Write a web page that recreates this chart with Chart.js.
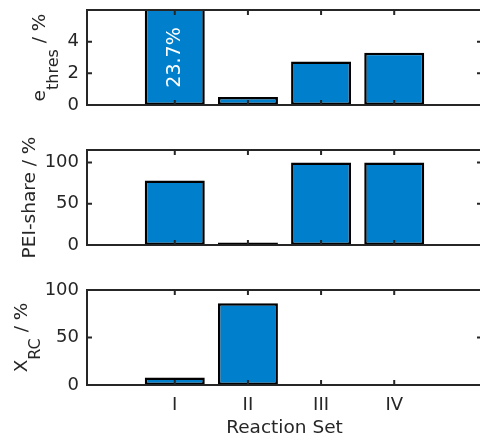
<!DOCTYPE html>
<html>
<head>
<meta charset="utf-8">
<script src="https://cdn.jsdelivr.net/npm/chart.js@4.4.1/dist/chart.umd.min.js"></script>
<style>
  html, body { margin: 0; padding: 0; background: #fff; }
  #wrap { position: relative; width: 480px; height: 439px; overflow: hidden; }
  canvas { position: absolute; left: 0; top: 0; }
</style>
</head>
<body>
<div id="wrap">
  <canvas id="cThres" width="492" height="439"></canvas>
  <canvas id="cShare" width="492" height="439"></canvas>
  <canvas id="cConv" width="492" height="439"></canvas>
</div>
<script>
const reactionSets = ['I', 'II', 'III', 'IV'];
const setPositions = [1, 2, 3, 4];

// threshold energy share, PEI share and RC conversion per reaction set (in %)
const eThres = [23.7, 0.5, 2.75, 3.3];
const peiShare = [78, 3, 100, 100];
const xRC = [8, 86, 1, 0.3];

const eThresTicks = [0, 2, 4];
const peiShareTicks = [0, 50, 100];
const xRCTicks = [0, 50, 100];

const FONT = 'DejaVu Sans';
const INK = '#262626';
const BAR = '#0080cc';

// boxed axes with inward ticks
const boxAxes = {
  id: 'boxAxes',
  afterDatasetsDraw(chart) {
    const { ctx, chartArea: a, scales } = chart;
    const t = 5;
    ctx.save();
    ctx.strokeStyle = INK;
    ctx.lineWidth = 2;
    ctx.strokeRect(a.left, a.top, a.right - a.left, a.bottom - a.top);
    ctx.beginPath();
    scales.y.ticks.forEach(tk => {
      const y = scales.y.getPixelForValue(tk.value);
      ctx.moveTo(a.left, y); ctx.lineTo(a.left + t, y);
      ctx.moveTo(a.right, y); ctx.lineTo(a.right - t, y);
    });
    setPositions.forEach(v => {
      const x = scales.x.getPixelForValue(v);
      ctx.moveTo(x, a.bottom); ctx.lineTo(x, a.bottom - t);
      ctx.moveTo(x, a.top); ctx.lineTo(x, a.top + t);
    });
    ctx.stroke();
    ctx.restore();
  }
};

// rotated y label with subscript support
const yLabel = {
  id: 'yLabel',
  afterDraw(chart, args, opts) {
    if (!opts.parts) return;
    const { ctx, chartArea: a } = chart;
    const mainFont = '18.5px "' + FONT + '"';
    const subFont = '16px "' + FONT + '"';
    ctx.save();
    ctx.fillStyle = INK;
    ctx.textBaseline = 'alphabetic';
    let total = 0;
    opts.parts.forEach(p => {
      ctx.font = p.sub ? subFont : mainFont;
      p.w = ctx.measureText(p.text).width;
      total += p.w;
    });
    ctx.translate(opts.x, (a.top + a.bottom) / 2);
    ctx.rotate(-Math.PI / 2);
    let cx = -total / 2;
    opts.parts.forEach(p => {
      ctx.font = p.sub ? subFont : mainFont;
      ctx.fillText(p.text, cx, p.sub ? 13 : 0);
      cx += p.w;
    });
    ctx.restore();
  }
};

// value written inside a clipped bar
const clippedValue = {
  id: 'clippedValue',
  afterDatasetsDraw(chart, args, opts) {
    if (opts.index === undefined) return;
    const { ctx, chartArea: a } = chart;
    const bar = chart.getDatasetMeta(0).data[opts.index];
    const value = chart.data.datasets[0].data[opts.index].y;
    ctx.save();
    ctx.fillStyle = '#ffffff';
    ctx.font = '19px "' + FONT + '"';
    ctx.textAlign = 'center';
    ctx.textBaseline = 'middle';
    ctx.translate(bar.x, (a.top + a.bottom) / 2);
    ctx.rotate(-Math.PI / 2);
    ctx.fillText(value.toFixed(1) + '%', 0, 0);
    ctx.restore();
  }
};

function makePanel(id, values, yMax, yTicks, parts, labelX, top, bottom, withXAxis, valueIndex) {
  const points = setPositions.map((x, i) => ({ x: x, y: values[i] }));
  return new Chart(document.getElementById(id), {
    type: 'bar',
    data: {
      datasets: [{
        data: points,
        backgroundColor: BAR,
        borderColor: '#000000',
        borderWidth: 2.5,
        borderSkipped: false,
        barPercentage: 0.82,
        categoryPercentage: 1,
        clip: 0
      }]
    },
    options: {
      responsive: false,
      animation: false,
      devicePixelRatio: 1,
      layout: { padding: { top: top, right: 10, bottom: bottom, left: 0 } },
      plugins: {
        legend: { display: false },
        tooltip: { enabled: false },
        yLabel: { parts: parts, x: labelX },
        clippedValue: { index: valueIndex }
      },
      scales: {
        x: {
          type: 'linear',
          display: withXAxis,
          min: -0.2,
          max: 5.2,
          offset: false,
          grid: { display: false, drawTicks: false },
          border: { display: false },
          ticks: {
            stepSize: 1,
            includeBounds: false,
            autoSkip: false,
            maxRotation: 0,
            padding: 10,
            color: INK,
            font: { family: FONT, size: 18 },
            callback: v => reactionSets[setPositions.indexOf(v)] || ''
          },
          title: {
            display: true,
            text: 'Reaction Set',
            color: INK,
            font: { family: FONT, size: 18.5 },
            padding: 0
          },
          afterFit: s => {
            if (withXAxis) s.height = 54;
            s.paddingLeft = 0; s.paddingRight = 0;
          }
        },
        y: {
          min: 0,
          max: yMax,
          grid: { display: false, drawTicks: false },
          border: { display: false },
          ticks: {
            padding: 8,
            color: INK,
            font: { family: FONT, size: 18 }
          },
          afterBuildTicks: s => { s.ticks = yTicks.map(v => ({ value: v })); },
          afterFit: s => {
            s.width = 87;
            s.paddingTop = 0; s.paddingBottom = 0;
          }
        }
      }
    },
    plugins: [boxAxes, yLabel, clippedValue]
  });
}

makePanel('cThres', eThres, 6, eThresTicks,
  [{ text: 'e' }, { text: 'thres', sub: true }, { text: ' / %' }], 45, 10, 334, false, 0);
makePanel('cShare', peiShare, 115, peiShareTicks,
  [{ text: 'PEI-share / %' }], 35, 150, 194, false, undefined);
makePanel('cConv', xRC, 100, xRCTicks,
  [{ text: 'X' }, { text: 'RC', sub: true }, { text: ' / %' }], 27, 290, 0, true, undefined);
</script>
</body>
</html>
